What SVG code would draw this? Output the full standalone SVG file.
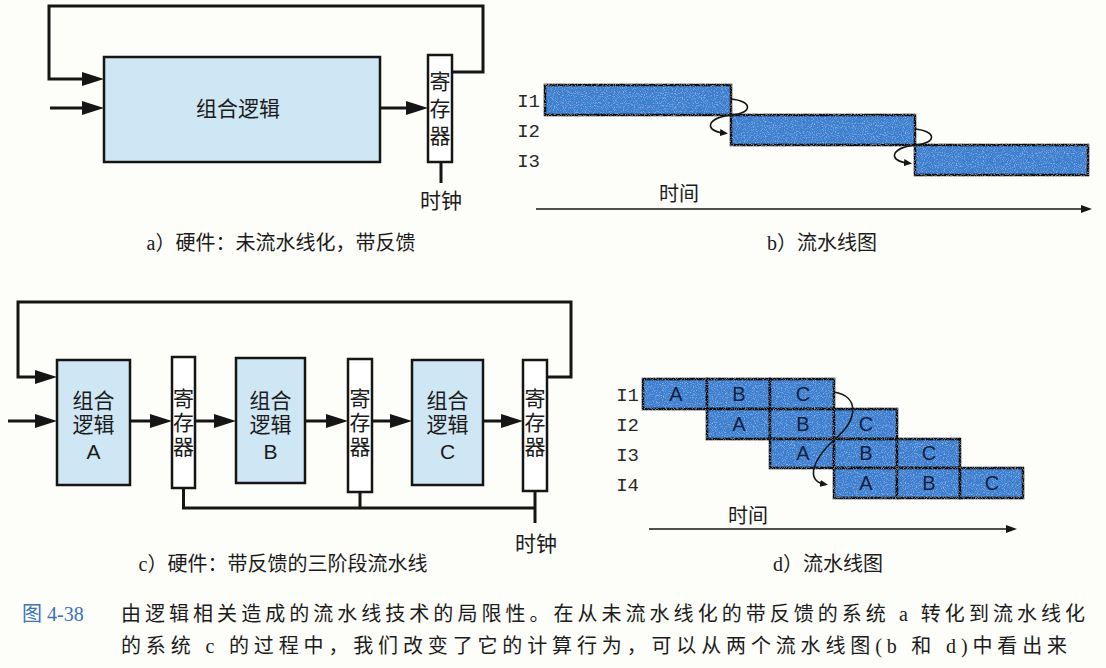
<svg xmlns="http://www.w3.org/2000/svg" width="1106" height="668" viewBox="0 0 1106 668">
  <defs>
    <style>
      .bg { fill: #fdfdf9; }
      .logic { fill: #cfe6f4; stroke: #151515; stroke-width: 2.5; }
      .reg { fill: #ffffff; stroke: #151515; stroke-width: 2.5; }
      .bar { fill: #3a80d0; stroke: #0c1016; stroke-width: 2.6; filter: url(#grain); }
      .wire { fill: none; stroke: #151515; stroke-width: 3; }
      .thin { fill: none; stroke: #151515; stroke-width: 1.6; }
      .cjk { font-family: "Noto Sans CJK SC", sans-serif; fill: #1b1b1b; }
      .vert { writing-mode: vertical-rl; text-anchor: middle; }
      .serif { font-family: "Liberation Serif", "Noto Sans CJK SC", serif; fill: #1b1b1b; }
      .mono { font-family: "Liberation Mono", monospace; fill: #2a2a2a; }
      .cell { font-family: "Liberation Sans", Arial, sans-serif; font-size: 20px; fill: #14213f; text-anchor: middle; }
      .latin { font-family: "Liberation Sans", Arial, sans-serif; }
      .mid { text-anchor: middle; }
    </style>
    <!-- light speckle on the blue bars -->
    <filter id="grain" x="-5%" y="-10%" width="110%" height="120%">
      <feTurbulence type="fractalNoise" baseFrequency="0.9" numOctaves="2" seed="7" result="noise"/>
      <feColorMatrix in="noise" type="matrix" values="0 0 0 0 0.72  0 0 0 0 0.86  0 0 0 0 1  1.1 0 0 0 -0.55" result="speck"/>
      <feComposite in="speck" in2="SourceGraphic" operator="atop"/>
    </filter>
    <!-- large filled arrowhead for hardware wires -->
    <marker id="arrowBig" viewBox="0 0 22 14" markerWidth="22" markerHeight="14" refX="16" refY="7" orient="auto" markerUnits="userSpaceOnUse">
      <path d="M0,0 L22,7 L0,14 z" fill="#151515"/>
    </marker>
    <!-- time axis arrowhead -->
    <marker id="arrowAxis" viewBox="0 0 11 8" markerWidth="11" markerHeight="8" refX="5" refY="4" orient="auto" markerUnits="userSpaceOnUse">
      <path d="M0,0 L11,4 L0,8 z" fill="#151515"/>
    </marker>
    <!-- small arrowhead for dependency curves -->
    <marker id="arrowDep" viewBox="0 0 8 7" markerWidth="8" markerHeight="7" refX="4" refY="3.5" orient="auto" markerUnits="userSpaceOnUse">
      <path d="M0,0 L8,3.5 L0,7 z" fill="#151515"/>
    </marker>
  </defs>

  <rect class="bg" x="0" y="0" width="1106" height="668"/>

  <!-- ===== a) unpipelined hardware with feedback ===== -->
  <g id="a-logic">
    <rect class="logic" x="104" y="57" width="276" height="105"/>
    <text class="cjk mid" x="238" y="116" font-size="21">组合逻辑</text>
  </g>
  <g id="a-register">
    <rect class="reg" x="428" y="55" width="24" height="107"/>
    <text class="cjk vert" x="440" y="111" font-size="21" letter-spacing="6">寄存器</text>
  </g>
  <g id="a-clock">
    <text class="cjk mid" x="441" y="208" font-size="21">时钟</text>
  </g>
  <g id="a-caption">
    <text class="serif mid" x="281" y="250" font-size="20">a）硬件：未流水线化，带反馈</text>
  </g>

  <!-- ===== b) pipeline diagram, unpipelined ===== -->
  <g id="b-i1">
    <text class="mono" x="540" y="107" font-size="19" text-anchor="end">I1</text>
    <rect class="bar" x="545" y="85" width="186" height="30"/>
  </g>
  <g id="b-i2">
    <text class="mono" x="540" y="137" font-size="19" text-anchor="end">I2</text>
    <rect class="bar" x="731" y="115" width="184" height="30"/>
  </g>
  <g id="b-i3">
    <text class="mono" x="540" y="167" font-size="19" text-anchor="end">I3</text>
    <rect class="bar" x="915" y="145" width="173" height="30"/>
  </g>
  <g id="b-time">
    <text class="cjk mid" x="679" y="201" font-size="20">时间</text>
  </g>
  <g id="b-caption">
    <text class="serif mid" x="822" y="250" font-size="20">b）流水线图</text>
  </g>

  <!-- ===== c) three-stage pipelined hardware with feedback ===== -->
  <g id="c-logic-a">
    <rect class="logic" x="57" y="360" width="73" height="125"/>
    <text class="cjk mid" font-size="21"><tspan x="93.5" y="408">组合</tspan><tspan x="93.5" y="432">逻辑</tspan><tspan class="latin" x="93.5" y="459">A</tspan></text>
  </g>
  <g id="c-register-1">
    <rect class="reg" x="172" y="357" width="23" height="131"/>
    <text class="cjk vert" x="183.5" y="424" font-size="21" letter-spacing="3">寄存器</text>
  </g>
  <g id="c-logic-b">
    <rect class="logic" x="236" y="358" width="69" height="125"/>
    <text class="cjk mid" font-size="21"><tspan x="270.5" y="408">组合</tspan><tspan x="270.5" y="432">逻辑</tspan><tspan class="latin" x="270.5" y="459">B</tspan></text>
  </g>
  <g id="c-register-2">
    <rect class="reg" x="348" y="359" width="24" height="133"/>
    <text class="cjk vert" x="360" y="424" font-size="21" letter-spacing="3">寄存器</text>
  </g>
  <g id="c-logic-c">
    <rect class="logic" x="412" y="360" width="71" height="125"/>
    <text class="cjk mid" font-size="21"><tspan x="447.5" y="408">组合</tspan><tspan x="447.5" y="432">逻辑</tspan><tspan class="latin" x="447.5" y="459">C</tspan></text>
  </g>
  <g id="c-register-3">
    <rect class="reg" x="523" y="360" width="24" height="131"/>
    <text class="cjk vert" x="535" y="424" font-size="21" letter-spacing="3">寄存器</text>
  </g>
  <g id="c-clock">
    <text class="cjk mid" x="536" y="551" font-size="21">时钟</text>
  </g>
  <g id="c-caption">
    <text class="serif mid" x="283" y="571" font-size="20">c）硬件：带反馈的三阶段流水线</text>
  </g>

  <!-- ===== d) pipeline diagram, three stages ===== -->
  <g id="d-i1">
    <text class="mono" x="639" y="401" font-size="19" text-anchor="end">I1</text>
    <rect class="bar" x="643" y="379" width="64" height="30"/>
    <rect class="bar" x="707" y="379" width="63" height="30"/>
    <rect class="bar" x="770" y="379" width="64" height="30"/>
    <text class="cell" x="676" y="401">A</text>
    <text class="cell" x="739" y="401">B</text>
    <text class="cell" x="803" y="401">C</text>
  </g>
  <g id="d-i2">
    <text class="mono" x="639" y="431" font-size="19" text-anchor="end">I2</text>
    <rect class="bar" x="707" y="409" width="63" height="30"/>
    <rect class="bar" x="770" y="409" width="64" height="30"/>
    <rect class="bar" x="834" y="409" width="63" height="30"/>
    <text class="cell" x="739" y="431">A</text>
    <text class="cell" x="803" y="431">B</text>
    <text class="cell" x="866" y="431">C</text>
  </g>
  <g id="d-i3">
    <text class="mono" x="639" y="461" font-size="19" text-anchor="end">I3</text>
    <rect class="bar" x="770" y="439" width="64" height="29"/>
    <rect class="bar" x="834" y="439" width="63" height="29"/>
    <rect class="bar" x="897" y="439" width="63" height="29"/>
    <text class="cell" x="803" y="460">A</text>
    <text class="cell" x="866" y="460">B</text>
    <text class="cell" x="929" y="460">C</text>
  </g>
  <g id="d-i4">
    <text class="mono" x="639" y="491" font-size="19" text-anchor="end">I4</text>
    <rect class="bar" x="834" y="468" width="63" height="30"/>
    <rect class="bar" x="897" y="468" width="63" height="30"/>
    <rect class="bar" x="960" y="468" width="63" height="30"/>
    <text class="cell" x="866" y="490">A</text>
    <text class="cell" x="929" y="490">B</text>
    <text class="cell" x="992" y="490">C</text>
  </g>
  <g id="d-time">
    <text class="cjk mid" x="748" y="523" font-size="20">时间</text>
  </g>
  <g id="d-caption">
    <text class="serif mid" x="828" y="571" font-size="20">d）流水线图</text>
  </g>

  <!-- ===== connectors ===== -->
  <g id="connectors">
    <!-- a) wires -->
    <polyline class="wire" points="452,72 483,72 483,6 49,6 49,79 98,79" marker-end="url(#arrowBig)"/>
    <line class="wire" x1="50" y1="108" x2="98" y2="108" marker-end="url(#arrowBig)"/>
    <line class="wire" x1="380" y1="108" x2="422" y2="108" marker-end="url(#arrowBig)"/>
    <line class="wire" x1="441" y1="162" x2="441" y2="183"/>

    <!-- b) dependency curves and time axis -->
    <path class="thin" d="M731,99 C752,101 754,113 731,115 C706,118 704,131 724,133" marker-end="url(#arrowDep)"/>
    <path class="thin" d="M915,129 C936,131 938,143 915,145 C890,148 888,161 908,163" marker-end="url(#arrowDep)"/>
    <line class="thin" x1="536" y1="209" x2="1086" y2="209" marker-end="url(#arrowAxis)"/>

    <!-- c) wires -->
    <polyline class="wire" points="547,377 571,377 571,302 18,302 18,377 51,377" marker-end="url(#arrowBig)"/>
    <line class="wire" x1="8" y1="421" x2="51" y2="421" marker-end="url(#arrowBig)"/>
    <line class="wire" x1="130" y1="421" x2="166" y2="421" marker-end="url(#arrowBig)"/>
    <line class="wire" x1="195" y1="421" x2="230" y2="421" marker-end="url(#arrowBig)"/>
    <line class="wire" x1="305" y1="421" x2="342" y2="421" marker-end="url(#arrowBig)"/>
    <line class="wire" x1="372" y1="421" x2="406" y2="421" marker-end="url(#arrowBig)"/>
    <line class="wire" x1="483" y1="421" x2="517" y2="421" marker-end="url(#arrowBig)"/>
    <polyline class="wire" points="183.5,488 183.5,508 535,508"/>
    <line class="wire" x1="360" y1="492" x2="360" y2="508"/>
    <line class="wire" x1="535" y1="491" x2="535" y2="523"/>

    <!-- d) dependency curve and time axis -->
    <path class="thin" d="M834,392 C858,396 860,418 834,440 C812,460 806,481 824,484" marker-end="url(#arrowDep)"/>
    <line class="thin" x1="649" y1="529" x2="1011" y2="529" marker-end="url(#arrowAxis)"/>
  </g>

  <!-- ===== figure caption ===== -->
  <g id="figure-caption">
    <text x="22" y="621" font-size="20" font-family="Liberation Serif, Noto Sans CJK SC, serif" fill="#3a74b6">图 4-38</text>
    <text class="serif" x="121" y="621" font-size="20" textLength="964" lengthAdjust="spacing">由逻辑相关造成的流水线技术的局限性。在从未流水线化的带反馈的系统 a 转化到流水线化</text>
    <text class="serif" x="121" y="653" font-size="20" textLength="946" lengthAdjust="spacing">的系统 c 的过程中，我们改变了它的计算行为，可以从两个流水线图(b 和 d)中看出来</text>
  </g>
</svg>
